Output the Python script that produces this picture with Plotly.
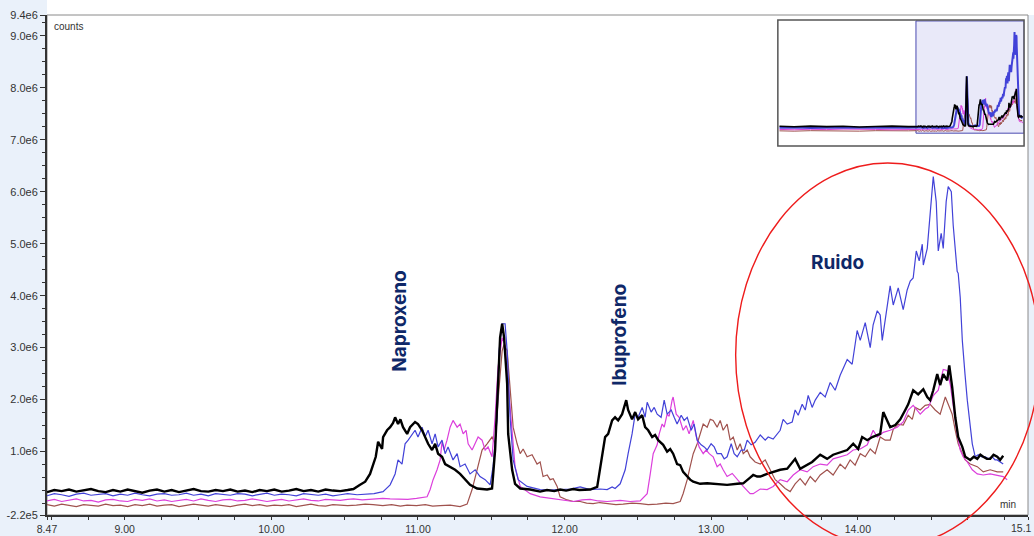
import numpy as np
import plotly.graph_objects as go

# ---------------- data (time in min, intensity in millions of counts) ----------------
baseline_t = [8.47, 8.52, 8.57, 8.62, 8.67, 8.72, 8.77,
              8.82, 8.87, 8.92, 8.97, 9.02, 9.07, 9.12,
              9.17, 9.22, 9.27, 9.32, 9.37, 9.42, 9.47,
              9.52, 9.57, 9.62, 9.67, 9.72, 9.77, 9.82,
              9.87, 9.92, 9.97, 10.02, 10.07, 10.12, 10.17,
              10.22, 10.27, 10.32, 10.37, 10.42, 10.47, 10.52]

black_base = [0.22, 0.26, 0.24, 0.27, 0.23, 0.25, 0.28,
              0.24, 0.22, 0.26, 0.23, 0.27, 0.24, 0.21,
              0.25, 0.27, 0.23, 0.26, 0.22, 0.25, 0.28,
              0.24, 0.23, 0.26, 0.24, 0.27, 0.23, 0.25,
              0.22, 0.26, 0.24, 0.27, 0.23, 0.25, 0.28,
              0.24, 0.26, 0.23, 0.27, 0.25, 0.24, 0.26]
blue_base = [0.15, 0.19, 0.17, 0.14, 0.18, 0.20, 0.16,
             0.17, 0.19, 0.15, 0.18, 0.16, 0.20, 0.17,
             0.15, 0.18, 0.19, 0.16, 0.17, 0.20, 0.16,
             0.18, 0.15, 0.19, 0.17, 0.16, 0.19, 0.18,
             0.15, 0.17, 0.20, 0.16, 0.18, 0.17, 0.15,
             0.19, 0.17, 0.16, 0.18, 0.15, 0.17, 0.19]
magenta_base = [0.05, 0.08, 0.04, 0.07, 0.09, 0.05, 0.06,
                0.03, 0.07, 0.08, 0.05, 0.04, 0.08, 0.06,
                0.09, 0.05, 0.07, 0.04, 0.06, 0.08, 0.05,
                0.09, 0.06, 0.04, 0.07, 0.08, 0.05, 0.06,
                0.09, 0.07, 0.04, 0.06, 0.08, 0.05, 0.07,
                0.09, 0.06, 0.05, 0.08, 0.07, 0.06, 0.08]
brown_base = [-0.02, -0.05, -0.01, -0.04, -0.06, -0.02, -0.03,
              -0.05, -0.01, -0.04, -0.03, -0.06, -0.02, -0.04,
              -0.01, -0.05, -0.03, -0.02, -0.06, -0.04, -0.01,
              -0.03, -0.05, -0.02, -0.04, -0.06, -0.03, -0.01,
              -0.04, -0.02, -0.05, -0.03, -0.04, -0.02, -0.06,
              -0.03, -0.01, -0.04, -0.05, -0.02, -0.03, -0.04]

black_run = [
    (10.56, 0.28), (10.605, 0.36), (10.64, 0.42), (10.673, 0.57), (10.694, 0.76), (10.712, 0.90),
    (10.728, 1.19), (10.755, 1.05), (10.762, 1.28), (10.789, 1.41), (10.81, 1.47), (10.83, 1.55),
    (10.844, 1.66), (10.864, 1.53), (10.88, 1.62), (10.898, 1.47), (10.926, 1.34), (10.946, 1.47),
    (10.98, 1.57), (11.0, 1.53), (11.028, 1.41), (11.048, 1.28), (11.069, 1.15), (11.096, 1.03),
    (11.117, 1.15), (11.137, 0.96), (11.164, 0.90), (11.185, 0.76), (11.219, 0.71), (11.253, 0.65),
    (11.287, 0.57), (11.321, 0.46), (11.355, 0.36), (11.403, 0.29), (11.471, 0.27), (11.505, 0.29),
    (11.526, 1.03), (11.546, 2.30), (11.56, 3.20), (11.574, 3.46), (11.587, 3.20), (11.608, 2.30),
    (11.615, 1.34), (11.642, 0.65), (11.662, 0.38), (11.697, 0.29), (11.765, 0.27), (11.833, 0.23),
    (11.88, 0.26), (11.93, 0.24), (11.969, 0.27), (12.01, 0.25), (12.058, 0.28), (12.10, 0.26),
    (12.174, 0.27), (12.222, 0.32), (12.242, 0.65), (12.276, 1.28), (12.297, 1.34), (12.324, 1.60),
    (12.344, 1.66), (12.365, 1.60), (12.392, 1.72), (12.42, 1.99), (12.433, 1.80), (12.46, 1.62),
    (12.481, 1.76), (12.501, 1.62), (12.529, 1.70), (12.549, 1.47), (12.57, 1.41), (12.597, 1.28),
    (12.617, 1.32), (12.638, 1.22), (12.672, 1.13), (12.699, 1.00), (12.72, 1.05), (12.74, 0.96),
    (12.767, 0.76), (12.788, 0.74), (12.808, 0.61), (12.836, 0.52), (12.856, 0.46), (12.877, 0.42),
    (12.924, 0.38), (12.972, 0.39), (13.04, 0.38), (13.108, 0.36), (13.177, 0.38), (13.218, 0.39),
    (13.265, 0.50), (13.286, 0.55), (13.313, 0.52), (13.334, 0.52), (13.381, 0.57), (13.422, 0.61),
    (13.47, 0.65), (13.518, 0.67), (13.572, 0.86), (13.606, 0.67), (13.654, 0.75), (13.688, 0.80),
    (13.743, 0.94), (13.79, 0.86), (13.831, 0.94), (13.879, 0.99), (13.927, 1.03), (13.968, 1.15),
    (14.002, 1.05), (14.029, 1.28), (14.064, 1.22), (14.098, 1.28), (14.132, 1.32), (14.152, 1.34),
    (14.173, 1.76), (14.20, 1.60), (14.22, 1.47), (14.255, 1.51), (14.289, 1.62), (14.323, 1.80),
    (14.343, 1.91), (14.377, 2.18), (14.411, 2.10), (14.446, 2.20), (14.473, 2.05), (14.493, 1.99),
    (14.514, 2.18), (14.541, 2.49), (14.561, 2.28), (14.582, 2.49), (14.609, 2.37), (14.623, 2.66),
    (14.643, 2.24), (14.664, 1.66), (14.684, 1.28), (14.712, 1.09), (14.732, 0.90), (14.766, 0.84),
    (14.79, 0.90), (14.814, 0.86), (14.835, 0.94), (14.855, 0.90), (14.88, 0.86), (14.902, 0.86),
    (14.925, 0.94), (14.95, 0.90), (14.97, 0.84), (14.991, 0.92)]

blue_run = [
    (10.585, 0.17), (10.64, 0.18), (10.70, 0.19), (10.762, 0.23), (10.81, 0.36), (10.844, 0.57),
    (10.864, 0.84), (10.891, 0.76), (10.912, 1.15), (10.933, 1.22), (10.96, 1.34), (10.98, 1.41),
    (11.0, 1.28), (11.028, 1.47), (11.048, 1.28), (11.069, 1.41), (11.096, 1.15), (11.117, 1.34),
    (11.137, 1.09), (11.164, 1.22), (11.185, 0.96), (11.205, 1.09), (11.239, 0.84), (11.267, 0.96),
    (11.287, 0.71), (11.321, 0.76), (11.355, 0.57), (11.39, 0.65), (11.423, 0.52), (11.458, 0.46),
    (11.492, 0.36), (11.512, 0.71), (11.54, 1.66), (11.553, 2.94), (11.574, 3.46), (11.594, 3.46),
    (11.608, 2.94), (11.628, 1.66), (11.649, 0.84), (11.683, 0.46), (11.744, 0.33), (11.833, 0.27),
    (11.90, 0.26), (11.969, 0.27), (12.04, 0.28), (12.106, 0.32), (12.174, 0.27), (12.242, 0.28),
    (12.29, 0.27), (12.324, 0.32), (12.344, 0.29), (12.379, 0.38), (12.413, 0.65), (12.433, 0.96),
    (12.46, 1.34), (12.481, 1.72), (12.501, 1.66), (12.529, 1.85), (12.549, 1.66), (12.563, 1.95),
    (12.59, 1.76), (12.611, 1.85), (12.631, 1.72), (12.658, 1.66), (12.679, 1.99), (12.699, 1.72),
    (12.727, 1.80), (12.747, 1.66), (12.767, 1.53), (12.795, 1.70), (12.815, 1.60), (12.836, 1.66),
    (12.863, 1.41), (12.883, 1.53), (12.904, 1.22), (12.931, 1.13), (12.952, 1.09), (12.972, 1.03),
    (12.999, 1.15), (13.02, 1.09), (13.04, 0.96), (13.068, 0.96), (13.088, 0.86), (13.108, 0.90),
    (13.136, 1.15), (13.156, 0.96), (13.177, 0.90), (13.204, 1.03), (13.225, 1.03), (13.245, 1.22),
    (13.272, 1.13), (13.299, 1.18), (13.334, 1.32), (13.368, 1.22), (13.388, 1.28), (13.422, 1.24),
    (13.47, 1.41), (13.49, 1.62), (13.518, 1.53), (13.552, 1.57), (13.572, 1.80), (13.593, 1.70),
    (13.62, 1.91), (13.641, 1.80), (13.661, 2.08), (13.688, 1.85), (13.709, 1.99), (13.743, 2.14),
    (13.777, 2.05), (13.811, 2.33), (13.845, 2.18), (13.879, 2.47), (13.90, 2.60), (13.927, 2.77),
    (13.961, 2.68), (13.995, 3.33), (14.016, 3.14), (14.05, 3.48), (14.084, 3.00), (14.104, 3.44),
    (14.132, 3.71), (14.152, 3.63), (14.166, 3.14), (14.186, 3.52), (14.22, 4.19), (14.241, 3.82),
    (14.275, 4.15), (14.309, 3.73), (14.336, 4.11), (14.357, 4.28), (14.377, 4.34), (14.398, 4.86),
    (14.418, 4.67), (14.439, 4.99), (14.446, 4.59), (14.473, 4.91), (14.48, 5.16), (14.493, 5.49),
    (14.514, 6.29), (14.534, 5.81), (14.548, 4.86), (14.568, 5.20), (14.582, 4.91), (14.602, 5.81),
    (14.616, 6.10), (14.637, 6.00), (14.65, 5.35), (14.677, 4.47), (14.684, 4.43), (14.698, 3.96),
    (14.712, 3.14), (14.73, 2.50), (14.746, 1.99), (14.78, 1.15), (14.80, 0.90), (14.821, 0.94),
    (14.845, 0.90), (14.869, 0.90), (14.89, 0.86), (14.916, 0.90), (14.935, 0.84), (14.95, 0.84),
    (14.97, 0.80), (14.991, 0.76)]

magenta_run = [
    (10.56, 0.09), (10.62, 0.07), (10.69, 0.08), (10.76, 0.10), (10.81, 0.09), (10.86, 0.08),
    (10.93, 0.08), (10.99, 0.10), (11.062, 0.13), (11.083, 0.27), (11.103, 0.46), (11.13, 0.65),
    (11.151, 0.84), (11.164, 1.19), (11.178, 1.03), (11.198, 1.22), (11.219, 1.47), (11.239, 1.60),
    (11.267, 1.47), (11.287, 1.53), (11.308, 1.34), (11.328, 1.41), (11.342, 1.15), (11.369, 1.03),
    (11.39, 1.15), (11.41, 1.28), (11.437, 1.22), (11.458, 1.03), (11.478, 1.09), (11.505, 0.90),
    (11.526, 1.66), (11.546, 2.62), (11.574, 3.19), (11.594, 3.04), (11.615, 2.29), (11.642, 1.34),
    (11.662, 0.71), (11.697, 0.33), (11.765, 0.19), (11.833, 0.13), (11.90, 0.10), (11.969, 0.08),
    (12.058, 0.04), (12.12, 0.07), (12.174, 0.08), (12.23, 0.05), (12.29, 0.04), (12.379, 0.06),
    (12.447, 0.04), (12.515, 0.05), (12.563, 0.19), (12.584, 0.57), (12.604, 0.96), (12.631, 1.13),
    (12.645, 1.34), (12.665, 1.53), (12.679, 1.47), (12.699, 1.72), (12.713, 1.68), (12.733, 1.99),
    (12.74, 2.05), (12.761, 1.72), (12.781, 1.66), (12.808, 1.41), (12.829, 1.50), (12.849, 1.34),
    (12.877, 1.60), (12.897, 1.30), (12.917, 1.09), (12.945, 0.96), (12.965, 1.03), (12.986, 0.96),
    (13.013, 0.90), (13.04, 0.71), (13.061, 0.76), (13.081, 0.65), (13.108, 0.52), (13.143, 0.58),
    (13.177, 0.46), (13.218, 0.33), (13.245, 0.25), (13.265, 0.19), (13.286, 0.19), (13.334, 0.28),
    (13.381, 0.27), (13.422, 0.33), (13.47, 0.46), (13.518, 0.42), (13.559, 0.55), (13.606, 0.65),
    (13.654, 0.61), (13.695, 0.71), (13.743, 0.76), (13.79, 0.74), (13.831, 0.86), (13.879, 0.90),
    (13.927, 0.94), (13.968, 1.03), (14.016, 1.05), (14.064, 1.13), (14.104, 1.41), (14.132, 1.28),
    (14.173, 1.37), (14.22, 1.41), (14.268, 1.47), (14.309, 1.57), (14.343, 1.80), (14.377, 1.89),
    (14.425, 1.72), (14.459, 1.82), (14.48, 1.85), (14.514, 2.08), (14.548, 2.18), (14.582, 2.58),
    (14.609, 2.56), (14.63, 2.29), (14.65, 1.85), (14.677, 1.34), (14.698, 1.03), (14.718, 0.90),
    (14.746, 0.80), (14.78, 0.65), (14.814, 0.57), (14.855, 0.55), (14.902, 0.57), (14.95, 0.55),
    (14.991, 0.52), (15.018, 0.46)]

brown_run = [
    (10.58, -0.03), (10.64, -0.01), (10.694, -0.02), (10.76, -0.04), (10.82, -0.02), (10.88, -0.05),
    (10.926, -0.03), (10.99, -0.04), (11.05, -0.02), (11.10, -0.05), (11.151, -0.04), (11.22, -0.03),
    (11.287, -0.06), (11.335, -0.01), (11.369, 0.27), (11.39, 0.52), (11.41, 0.76), (11.437, 1.03),
    (11.471, 1.15), (11.505, 1.28), (11.526, 1.15), (11.546, 1.99), (11.574, 2.94), (11.587, 3.06),
    (11.608, 2.94), (11.628, 2.29), (11.649, 1.47), (11.676, 1.15), (11.697, 0.96), (11.717, 1.05),
    (11.744, 0.90), (11.778, 0.94), (11.812, 0.76), (11.833, 0.80), (11.853, 0.52), (11.881, 0.55),
    (11.901, 0.46), (11.922, 0.48), (11.949, 0.33), (11.969, 0.13), (12.017, 0.07), (12.06, 0.04),
    (12.106, 0.04), (12.15, 0.01), (12.194, 0.00), (12.24, 0.02), (12.29, 0.00), (12.35, -0.02),
    (12.399, -0.01), (12.46, 0.01), (12.515, 0.00), (12.57, -0.02), (12.631, -0.01), (12.69, 0.01),
    (12.74, 0.00), (12.788, 0.04), (12.808, 0.19), (12.836, 0.46), (12.856, 0.71), (12.877, 0.96),
    (12.904, 1.15), (12.924, 1.34), (12.945, 1.53), (12.972, 1.47), (12.993, 1.62), (13.013, 1.60),
    (13.04, 1.47), (13.061, 1.60), (13.081, 1.41), (13.108, 1.53), (13.129, 1.22), (13.15, 1.28),
    (13.177, 1.03), (13.197, 1.15), (13.218, 0.96), (13.245, 1.03), (13.265, 0.90), (13.299, 0.80),
    (13.334, 0.76), (13.368, 0.84), (13.402, 0.65), (13.436, 0.46), (13.47, 0.38), (13.504, 0.29),
    (13.538, 0.23), (13.572, 0.38), (13.606, 0.48), (13.641, 0.36), (13.675, 0.52), (13.709, 0.42),
    (13.743, 0.55), (13.79, 0.65), (13.831, 0.55), (13.879, 0.76), (13.913, 0.67), (13.947, 0.84),
    (13.981, 0.74), (14.016, 0.96), (14.05, 0.90), (14.084, 1.05), (14.118, 0.96), (14.152, 1.28),
    (14.186, 1.22), (14.22, 1.22), (14.241, 1.43), (14.275, 1.53), (14.309, 1.51), (14.343, 1.70),
    (14.371, 1.62), (14.391, 1.85), (14.425, 1.80), (14.459, 1.89), (14.493, 1.91), (14.527, 1.80),
    (14.561, 1.72), (14.596, 2.05), (14.616, 1.91), (14.643, 1.72), (14.664, 1.41), (14.684, 1.15),
    (14.712, 0.96), (14.732, 0.84), (14.766, 0.76), (14.814, 0.71), (14.855, 0.61), (14.902, 0.65),
    (14.95, 0.61), (14.991, 0.61)]

# flat pre-window baseline shown only in the overview inset
pre_t = [0.1, 1.0, 2.0, 3.0, 4.0, 5.0, 6.0, 7.0, 8.0]
black_pre = [0.26, 0.23, 0.27, 0.24, 0.26, 0.22, 0.25, 0.27, 0.24]
blue_pre = [0.16, 0.18, 0.15, 0.17, 0.19, 0.16, 0.18, 0.17, 0.16]
magenta_pre = [0.06, 0.04, 0.07, 0.05, 0.08, 0.05, 0.06, 0.04, 0.07]
brown_pre = [-0.03, -0.05, -0.02, -0.04, -0.03, -0.05, -0.02, -0.04, -0.03]

y_tick_vals = [-0.22, 1.0, 2.0, 3.0, 4.0, 5.0, 6.0, 7.0, 8.0, 9.0, 9.4]
y_tick_text = ["-2.2e5", "1.0e6", "2.0e6", "3.0e6", "4.0e6", "5.0e6",
               "6.0e6", "7.0e6", "8.0e6", "9.0e6", "9.4e6"]
x_tick_vals = [8.47, 9.0, 10.0, 11.0, 12.0, 13.0, 14.0, 15.16]
x_tick_text = ["8.47", "9.00", "10.00", "11.00", "12.00", "13.00", "14.00", ""]
x_end_label = "15.1"

SCALE = 1e6

def series(base, run):
    t = list(baseline_t) + [p[0] for p in run]
    v = list(base) + [p[1] for p in run]
    return np.array(t), np.array(v) * SCALE

styles = [
    ("brown", brown_base, brown_run, brown_pre, "#a0524e", 1.2),
    ("magenta", magenta_base, magenta_run, magenta_pre, "#dc3fdc", 1.2),
    ("blue", blue_base, blue_run, blue_pre, "#4242d8", 1.2),
    ("black", black_base, black_run, black_pre, "#000000", 2.4),
]

fig = go.Figure()
for name, base, run, pre, color, w in styles:
    t, v = series(base, run)
    fig.add_trace(go.Scatter(x=t, y=v, mode="lines", name=name,
                             line=dict(color=color, width=w), showlegend=False,
                             hoverinfo="skip"))
for name, base, run, pre, color, w in styles:
    t, v = series(base, run)
    ti = np.concatenate([np.array(pre_t), t])
    vi = np.concatenate([np.array(pre) * SCALE, v])
    iw = 2.0 if name == "blue" else (1.6 if name == "black" else 1.0)
    fig.add_trace(go.Scatter(x=ti, y=vi, mode="lines", xaxis="x2", yaxis="y2",
                             line=dict(color=color, width=iw), showlegend=False,
                             hoverinfo="skip"))

tick_font = dict(family="Liberation Sans, Arial, sans-serif", size=11, color="#333333")
xtick_font = dict(family="Liberation Sans, Arial, sans-serif", size=10.5, color="#333333")
label_font = dict(family="Inter, Open Sans, sans-serif", size=19, color="#0f2868")
small_font = dict(family="Liberation Sans, Arial, sans-serif", size=10, color="#333")

fig.update_layout(
    width=1034, height=536,
    margin=dict(l=47, r=6, t=15, b=21, autoexpand=False),
    paper_bgcolor="#eaf1fa",
    plot_bgcolor="#ffffff",
    xaxis=dict(range=[8.47, 15.16], tickmode="array", tickvals=x_tick_vals,
               ticktext=x_tick_text, ticks="outside", ticklen=3, tickcolor="#333",
               showline=True, linecolor="#333", linewidth=2, showgrid=False,
               zeroline=False, tickfont=xtick_font, automargin=False,
               minor=dict(tickmode="linear", tick0=0, dtick=0.25, ticks="outside",
                          ticklen=3, tickcolor="#333")),
    yaxis=dict(range=[-0.22 * SCALE, 9.4 * SCALE], tickmode="array",
               tickvals=[v * SCALE for v in y_tick_vals], ticktext=y_tick_text,
               ticks="outside", ticklen=5, tickcolor="#333",
               showline=True, linecolor="#333", linewidth=2, showgrid=False,
               zeroline=False, tickfont=tick_font, automargin=False,
               ticklabeloverflow="allow",
               minor=dict(tickmode="linear", tick0=0, dtick=0.25 * SCALE, ticks="outside",
                          ticklen=3, tickcolor="#333")),
    xaxis2=dict(domain=[0.745, 0.996], anchor="y2", range=[0.0, 15.1],
                showticklabels=False, ticks="", showgrid=False, zeroline=False,
                showline=False, automargin=False),
    yaxis2=dict(domain=[0.738, 0.990], anchor="x2", range=[-1.0 * SCALE, 7.06 * SCALE],
                showticklabels=False, ticks="", showgrid=False, zeroline=False,
                showline=False, automargin=False),
    shapes=[
        # white band above plot
        dict(type="rect", xref="paper", yref="paper", x0=0, x1=1.01, y0=1.0, y1=1.05,
             fillcolor="#ffffff", line=dict(width=0), layer="below"),
        # plot frame (top/right)
        dict(type="rect", xref="paper", yref="paper", x0=0, x1=1, y0=0, y1=1,
             line=dict(color="#8a8a8a", width=1), layer="below"),
        # inset background + highlighted window
        dict(type="rect", xref="paper", yref="paper", x0=0.745, x1=0.996, y0=0.738, y1=0.990,
             fillcolor="#ffffff", line=dict(width=0), layer="below"),
        dict(type="rect", xref="x2", yref="y2", x0=8.47, x1=15.1,
             y0=-0.18 * SCALE, y1=7.0 * SCALE,
             fillcolor="#e9e9f9", line=dict(color="#4a4ab0", width=1), layer="below"),
        dict(type="rect", xref="paper", yref="paper", x0=0.745, x1=0.996, y0=0.738, y1=0.990,
             line=dict(color="#555555", width=1.5)),
        # red ellipse marking noise
        dict(type="circle", xref="paper", yref="paper", x0=0.702, x1=1.012, y0=-0.064, y1=0.704,
             line=dict(color="#ee1c1c", width=1.4)),
    ],
    annotations=[
        dict(text="<b>Naproxeno</b>", x=10.878, y=3.5 * SCALE, xref="x", yref="y",
             textangle=-90, showarrow=False, font=label_font),
        dict(text="<b>Ibuprofeno</b>", x=12.372, y=3.25 * SCALE, xref="x", yref="y",
             textangle=-90, showarrow=False, font=label_font),
        dict(text="<b>Ruido</b>", x=13.859, y=4.63 * SCALE, xref="x", yref="y",
             showarrow=False, font=label_font),
        dict(text="counts", x=0.005, y=0.978, xref="paper", yref="paper",
             xanchor="left", yanchor="middle", showarrow=False, font=small_font),
        dict(text="min", x=0.990, y=0.022, xref="paper", yref="paper",
             xanchor="right", yanchor="middle", showarrow=False, font=small_font),
        dict(text=x_end_label, x=1.0055, y=-0.012, xref="paper", yref="paper",
             xanchor="right", yanchor="top", showarrow=False, font=xtick_font,
             borderpad=0),
    ],
)

fig.write_html("out.html")
